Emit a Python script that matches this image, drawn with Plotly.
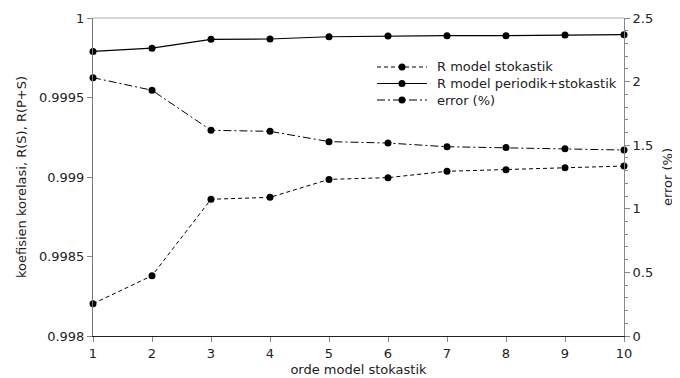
import plotly.graph_objects as go

orde = [1, 2, 3, 4, 5, 6, 7, 8, 9, 10]
r_stokastik = [0.998203, 0.998379, 0.99886, 0.998872, 0.998985, 0.998996, 0.999036, 0.999046, 0.999058, 0.999069]
r_periodik_stokastik = [0.99979, 0.99981, 0.999866, 0.999868, 0.999882, 0.999887, 0.999889, 0.999889, 0.999893, 0.999895]
error_pct = [2.031, 1.932, 1.617, 1.609, 1.528, 1.517, 1.488, 1.481, 1.473, 1.462]

y_ticks = [0.998, 0.9985, 0.999, 0.9995, 1]
y_ticktext = ["0.998", "0.9985", "0.999", "0.9995", "1"]
y2_ticks = [0, 0.5, 1, 1.5, 2, 2.5]
y2_ticktext = ["0", "0.5", "1", "1.5", "2", "2.5"]
legend_names = ["R model stokastik", "R model periodik+stokastik", "error (%)"]

FONT = "DejaVu Sans"
FS = 13
mk = dict(symbol="circle", size=7, color="black")
dashes = ["4px,3px", "solid", "8px,3px,2px,3px"]
widths = [1, 1.2, 1]

fig = go.Figure()
fig.add_trace(go.Scatter(x=orde, y=r_stokastik, name=legend_names[0], mode="lines+markers",
                         line=dict(color="black", width=widths[0], dash=dashes[0]), marker=mk, cliponaxis=False))
fig.add_trace(go.Scatter(x=orde, y=r_periodik_stokastik, name=legend_names[1], mode="lines+markers",
                         line=dict(color="black", width=widths[1], dash=dashes[1]), marker=mk, cliponaxis=False))
fig.add_trace(go.Scatter(x=orde, y=error_pct, name=legend_names[2], mode="lines+markers", yaxis="y2",
                         line=dict(color="black", width=widths[2], dash=dashes[2]), marker=mk, cliponaxis=False))

# the page adds an 8px body margin, so the figure is drawn 8px smaller and offset
OFF = 8
W, H = 680 - OFF, 378 - OFF
L, R, T, B = 93 - OFF, 624 - OFF, 18 - OFF, 336 - OFF
def px(xp):
    return (xp - OFF - L) / (R - L)
def py(yp):
    return (B - (yp - OFF)) / (B - T)

shapes = [dict(type="line", xref="paper", yref="paper", x0=0, x1=1, y0=1, y1=1,
               line=dict(color="#aaa", width=1))]
annotations = []
rows = [67, 83.5, 100]
for i, name in enumerate(legend_names):
    yy = py(rows[i])
    shapes.append(dict(type="line", xref="paper", yref="paper", x0=px(377), x1=px(427), y0=yy, y1=yy,
                       line=dict(color="black", width=widths[i], dash=dashes[i])))
    shapes.append(dict(type="circle", xref="paper", yref="paper", x0=px(398.5), x1=px(405.5),
                       y0=yy - 3.5 / (B - T), y1=yy + 3.5 / (B - T),
                       fillcolor="black", line=dict(color="black", width=0)))
    annotations.append(dict(text=name, xref="paper", yref="paper", x=px(435), y=yy,
                            xanchor="left", yanchor="middle", showarrow=False,
                            font=dict(family=FONT, size=FS, color="#222")))

fig.update_layout(
    width=W, height=H,
    margin=dict(l=L, r=W - R, t=T, b=H - B, autoexpand=False),
    paper_bgcolor="white", plot_bgcolor="white",
    font=dict(family=FONT, size=FS, color="#222"),
    showlegend=False,
    xaxis=dict(range=[1, 10], tickvals=orde, ticktext=[str(v) for v in orde], automargin=False,
               showgrid=False, zeroline=False, showline=True, linecolor="#222", linewidth=1,
               ticks="outside", ticklen=5, tickcolor="#888",
               title=dict(text="orde model stokastik", standoff=5, font=dict(size=FS))),
    yaxis=dict(range=[0.998, 1], tickvals=y_ticks, ticktext=y_ticktext, automargin=False,
               showgrid=False, zeroline=False, showline=True, linecolor="#777", linewidth=1,
               ticks="outside", ticklen=5, tickcolor="#888",
               title=dict(text="koefisien korelasi, R(S), R(P+S)", standoff=9, font=dict(size=FS))),
    yaxis2=dict(range=[0, 2.5], overlaying="y", side="right", tickvals=y2_ticks, ticktext=y2_ticktext,
                automargin=False,
                showgrid=False, zeroline=False, showline=True, linecolor="#888", linewidth=1,
                ticks="outside", ticklen=5, tickcolor="#888",
                minor=dict(dtick=0.1, ticks="outside", ticklen=3, tickcolor="#888", showgrid=False),
                title=dict(text="error (%)", standoff=10, font=dict(size=FS))),
    shapes=shapes,
    annotations=annotations,
)

fig.write_html("out.html")
